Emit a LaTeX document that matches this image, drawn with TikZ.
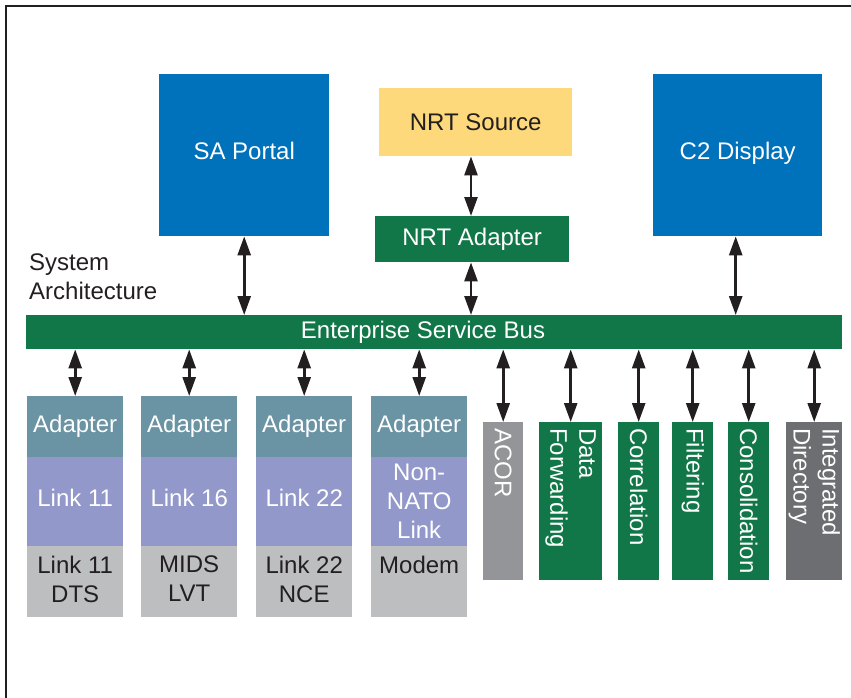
\documentclass[tikz,border=0pt]{standalone}
\usepackage{fontspec}
\setmainfont{Liberation Sans}
\usetikzlibrary{arrows.meta,calc}
\definecolor{cblue}{HTML}{0071BB}
\definecolor{cgreen}{HTML}{127748}
\definecolor{cyellow}{HTML}{FED97B}
\definecolor{cteal}{HTML}{6A93A3}
\definecolor{cpurple}{HTML}{9298CA}
\definecolor{clgray}{HTML}{BCBEC0}
\definecolor{cmgray}{HTML}{939598}
\definecolor{cdgray}{HTML}{6D6E71}
\definecolor{cdark}{HTML}{231F20}
\begin{document}
\begin{tikzpicture}[x=1pt,y=-1pt,
  box/.style={draw=none, inner sep=0pt, anchor=north west, text=white, align=center,
    font=\fontsize{24}{29}\selectfont},
  txt/.style={inner sep=0pt, align=center, font=\fontsize{24}{29}\selectfont},
  vtxt/.style={inner sep=0pt, align=left, text=white, rotate=-90, anchor=west,
    font=\fontsize{24}{29}\selectfont},
  biarrow/.style={{Triangle[width=13pt,length=19pt]}-{Triangle[width=13pt,length=19pt]},
    line width=2.6pt, draw=cdark},
  adbox/.style={box, fill=cteal, minimum width=96pt, minimum height=61pt},
  lkbox/.style={box, fill=cpurple, minimum width=96pt, minimum height=89pt},
  hwbox/.style={box, fill=clgray, minimum width=96pt, minimum height=71pt},
  vbox/.style={box, minimum height=158pt}
]
\useasboundingbox (0,0) rectangle (851,698);
% frame
\draw[line width=2.2pt, draw=cdark] (6,698) -- (6,6) -- (851,6);

% top boxes
\node[box, fill=cblue, minimum width=170pt, minimum height=162pt, text depth=9pt] (sa) at (159,74) {SA Portal};
\node[box, fill=cblue, minimum width=169pt, minimum height=162pt, text depth=9pt] (c2) at (653,74) {C2 Display};
\node[box, fill=cyellow, text=cdark, minimum width=193pt, minimum height=68pt] (src) at (379,88) {NRT Source};
\node[box, fill=cgreen, minimum width=194pt, minimum height=46pt] (nad) at (375,216) {NRT Adapter};

\node[txt, anchor=north west, align=left, text=cdark] (sysarch) at (29,254) {System\\Architecture};

% bus
\node[box, fill=cgreen, minimum width=816pt, minimum height=34pt] (esb) at (26,315) {};
\node[txt, text=white] (esbt) at (423,332) {Enterprise Service Bus};

% link columns
\foreach \i/\x in {1/27,2/141,3/256,4/371}{
  \node[adbox] (a\i) at (\x,396) {Adapter};
}
\node[lkbox, text depth=8pt] (l1) at (27,457) {Link 11};
\node[lkbox, text depth=8pt] (l2) at (141,457) {Link 16};
\node[lkbox, text depth=8pt] (l3) at (256,457) {Link 22};
\node[lkbox] (l4) at (371,457) {Non-\\NATO\\Link};
\foreach \i/\x in {1/27,2/141,3/256,4/371}{
  \node[hwbox] (h\i) at (\x,546) {};
}
\node[txt, anchor=north, text=cdark] (h1t) at ($(h1.north)+(0,10)$) {Link 11\\DTS};
\node[txt, anchor=north, text=cdark] (h2t) at ($(h2.north)+(0,10)$) {MIDS\\LVT};
\node[txt, anchor=north, text=cdark] (h3t) at ($(h3.north)+(0,10)$) {Link 22\\NCE};
\node[txt, anchor=north, text=cdark] (h4t) at ($(h4.north)+(0,10)$) {Modem};

% service boxes
\node[vbox, fill=cmgray, minimum width=40pt] (acor) at (483,422) {};
\node[vbox, fill=cgreen, minimum width=63pt] (dfw) at (539,422) {};
\node[vbox, fill=cgreen, minimum width=41pt] (cor) at (618,422) {};
\node[vbox, fill=cgreen, minimum width=41pt] (fil) at (672,422) {};
\node[vbox, fill=cgreen, minimum width=41pt] (con) at (728,422) {};
\node[vbox, fill=cdgray, minimum width=56pt] (idir) at (786,422) {};
\node[vtxt] (acort) at ($(acor.north)+(0,6)$) {ACOR};
\node[vtxt] (dfwt) at ($(dfw.north)+(0,6)$) {Data\\Forwarding};
\node[vtxt] (cort) at ($(cor.north)+(0,6)$) {Correlation};
\node[vtxt] (filt) at ($(fil.north)+(0,6)$) {Filtering};
\node[vtxt] (cont) at ($(con.north)+(0,6)$) {Consolidation};
\node[vtxt] (idirt) at ($(idir.north)+(0,6)$) {Integrated\\Directory};

% connectors
\draw[biarrow] (sa.south) -- (sa.south |- esb.north);
\draw[biarrow] ([xshift=-2pt]c2.south) -- ([xshift=-2pt]c2.south |- esb.north);
\draw[biarrow] (nad.north -| 471,0) -- (src.south -| 471,0);
\draw[biarrow] (nad.south -| 471,0) -- (esb.north -| 471,0);
\foreach \n in {a1,a2,a3,a4,acor,dfw,cor,fil,con,idir}{
  \draw[biarrow] (esb.south -| \n.north) -- (\n.north);
}
\end{tikzpicture}
\end{document}
